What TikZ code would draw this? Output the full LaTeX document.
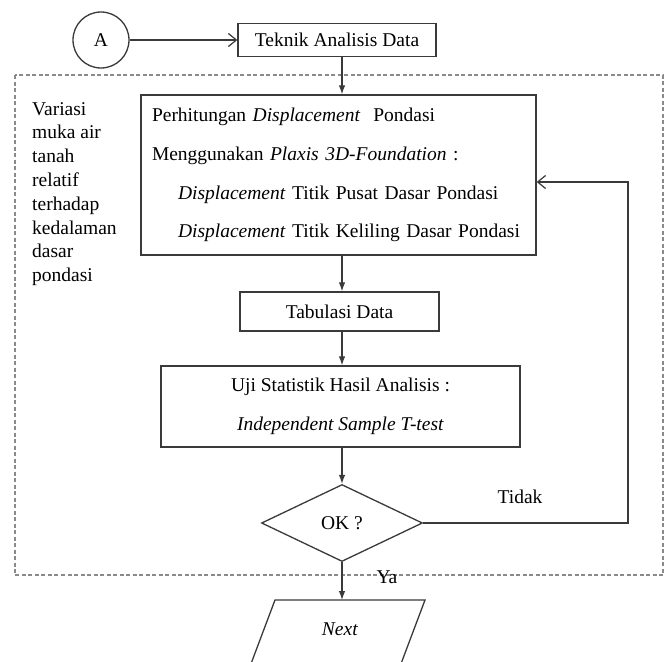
\documentclass[tikz,border=0pt]{standalone}
\usepackage{fontspec}
\setmainfont{Liberation Serif}
\usetikzlibrary{shapes.geometric,arrows.meta}
\definecolor{lineC}{HTML}{3A3A3A}
\definecolor{dashC}{HTML}{8A8A8A}
\begin{document}
\begin{tikzpicture}[x=1pt,y=-1pt,
  every node/.style={font=\fontsize{19.5}{23.4}\selectfont, text=black},
  box/.style={draw=lineC, line width=1.3pt, inner sep=0pt},
  flow/.style={draw=lineC, line width=1.2pt, -{Latex[length=9pt,width=6.5pt]}},
  openarr/.style={draw=lineC, line width=1.2pt, -{Straight Barb[length=8pt,width=13pt]}},
  dashbox/.style={draw=dashC, line width=1.6pt, dash pattern=on 4pt off 2.5pt}
  ]
\useasboundingbox (0,0) rectangle (669,661);
\fill[white] (0,0) rectangle (669,661);
\clip (0,0) rectangle (669,661);

\coordinate (axis) at (342,0);

\node[circle, draw=lineC, line width=1.3pt, minimum size=56pt, inner sep=0pt] (A) at (101,40) {A};
\node[box, minimum width=198pt, minimum height=33pt] (tek) at (337,40) {Teknik Analisis Data};
\draw[openarr] (A.east) -- (tek.west);

\draw[dashbox] (15,75) rectangle (663,575);

\node[anchor=north west, align=left, inner sep=0pt, font=\fontsize{19.5}{23.8}\selectfont] (var) at (32,102)
  {Variasi\\muka air\\tanah\\relatif\\terhadap\\kedalaman\\dasar\\pondasi};

\node[box, minimum width=395pt, minimum height=160pt, text width=373pt, inner xsep=11pt, align=left] (main) at (338.5,175)
  {Perhitungan \textit{Displacement}\ \ Pondasi\\[15.3pt]
   Menggunakan \textit{Plaxis 3D-Foundation} :\\[15.3pt]
   \hspace*{26pt}\textit{Displacement} Titik Pusat Dasar Pondasi\\[15.3pt]
   \hspace*{26pt}\textit{Displacement} Titik Keliling Dasar Pondasi};

\node[box, minimum width=199pt, minimum height=39pt] (tab) at (339.5,311.5) {Tabulasi Data};

\node[box, minimum width=359pt, minimum height=81pt, align=center] (uji) at (340.5,406.5)
  {Uji Statistik Hasil Analisis :\\[15.6pt] \textit{Independent Sample T-test}};

\node[diamond, draw=lineC, line width=1.3pt, minimum width=161pt, minimum height=77pt, inner sep=0pt, aspect=2] (ok) at (342,523) {OK ?};

\draw[box] (275,600) -- (425,600) -- (399.4,668) -- (249.4,668) -- cycle;
\coordinate (nexttop) at (342,600);
\node (next) at (340,629) {\textit{Next}};

\draw[flow] (tek.south -| axis) -- (main.north -| axis);
\draw[flow] (main.south -| axis) -- (tab.north -| axis);
\draw[flow] (tab.south -| axis) -- (uji.north -| axis);
\draw[flow] (uji.south -| axis) -- (ok.north);
\draw[flow] (ok.south) -- (nexttop);

\coordinate (loop) at (628,182);
\draw[openarr] (ok.east) -| (loop) -- (loop -| main.east);

\node (tidak) at (520,497) {Tidak};
\node (ya) at (387,577) {Ya};
\end{tikzpicture}
\end{document}
